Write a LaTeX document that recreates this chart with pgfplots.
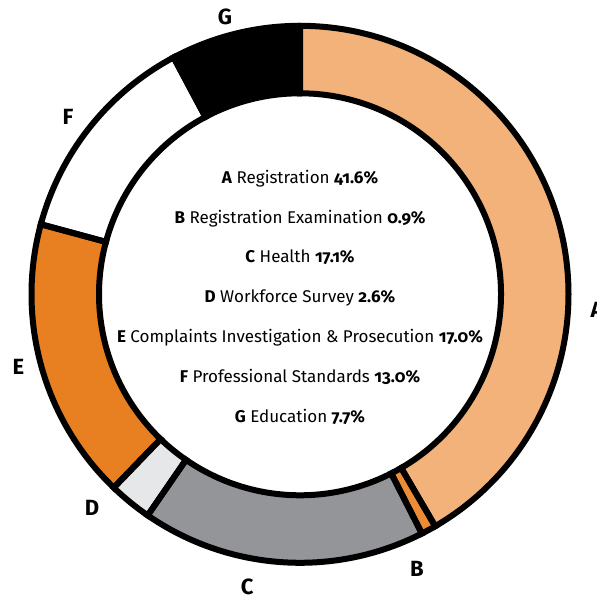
\documentclass[border=0pt]{standalone}
\usepackage{pgfplots}
\pgfplotsset{compat=1.18}
\usepackage{pgfplotstable}
\usepackage{fontspec}
\setmainfont{Fira Sans}[Numbers=OldStyle]
\definecolor{cA}{RGB}{242,178,122}
\definecolor{cB}{RGB}{236,140,52}
\definecolor{cC}{RGB}{147,149,152}
\definecolor{cD}{RGB}{230,231,232}
\definecolor{cE}{RGB}{232,127,32}
\definecolor{cF}{RGB}{255,255,255}
\definecolor{cG}{RGB}{0,0,0}
\pgfplotstableread{
id value col
A 41.6 cA
B 0.9 cB
C 17.1 cC
D 2.6 cD
E 17.0 cE
F 13.0 cF
G 7.7 cG
}\shares
% cumulative angles (clockwise from the top)
\pgfplotstablegetrowsof{\shares}
\pgfmathtruncatemacro{\nrows}{\pgfplotsretval-1}
\gdef\cum{0}
\foreach \i in {0,...,\nrows}{%
  \pgfplotstablegetelem{\i}{value}\of{\shares}%
  \pgfmathsetmacro{\sa}{90-3.6*\cum}%
  \pgfmathsetmacro{\newcum}{\cum+\pgfplotsretval}%
  \pgfmathsetmacro{\ea}{90-3.6*\newcum}%
  \expandafter\xdef\csname sa\i\endcsname{\sa}%
  \expandafter\xdef\csname ea\i\endcsname{\ea}%
  \pgfplotstablegetelem{\i}{col}\of{\shares}%
  \expandafter\xdef\csname col\i\endcsname{\pgfplotsretval}%
  \xdef\cum{\newcum}%
}
\def\cx{300}
\def\cy{304.7}
\def\Ro{268.5bp}
\def\Ri{201bp}
\begin{document}
\begin{tikzpicture}
\begin{axis}[
  x=1bp, y=1bp, scale only axis,
  xmin=0, xmax=597, ymin=0, ymax=599,
  hide axis, clip=false,
]
\pgfplotsinvokeforeach{0,...,6}{
  \fill[\csname col#1\endcsname]
    ([shift={(axis cs:\cx,\cy)}]\csname sa#1\endcsname:\Ro)
    arc[start angle=\csname sa#1\endcsname, end angle=\csname ea#1\endcsname, radius=\Ro]
    -- ([shift={(axis cs:\cx,\cy)}]\csname ea#1\endcsname:\Ri)
    arc[start angle=\csname ea#1\endcsname, end angle=\csname sa#1\endcsname, radius=\Ri]
    -- cycle;
}
\pgfplotsinvokeforeach{0,...,6}{
  \draw[black, line width=6bp, line join=miter]
    ([shift={(axis cs:\cx,\cy)}]\csname sa#1\endcsname:\Ro)
    arc[start angle=\csname sa#1\endcsname, end angle=\csname ea#1\endcsname, radius=\Ro]
    -- ([shift={(axis cs:\cx,\cy)}]\csname ea#1\endcsname:\Ri)
    arc[start angle=\csname ea#1\endcsname, end angle=\csname sa#1\endcsname, radius=\Ri]
    -- cycle;
}
\begin{scope}[font=\fontsize{17bp}{19bp}\selectfont]
\node[anchor=base] at (axis cs:300,415.7) {\textbf{A} Registration \textbf{41.6\%}};
\node[anchor=base] at (axis cs:300,375.9) {\textbf{B} Registration Examination \textbf{0.9\%}};
\node[anchor=base] at (axis cs:300,336.1) {\textbf{C} Health \textbf{17.1\%}};
\node[anchor=base] at (axis cs:300,296.3) {\textbf{D} Workforce Survey \textbf{2.6\%}};
\node[anchor=base] at (axis cs:300,256.5) {\textbf{E} Complaints Investigation \& Prosecution \textbf{17.0\%}};
\node[anchor=base] at (axis cs:300,216.7) {\textbf{F} Professional Standards \textbf{13.0\%}};
\node[anchor=base] at (axis cs:300,176.9) {\textbf{G} Education \textbf{7.7\%}};
\end{scope}
\begin{scope}[font=\fontsize{22bp}{24bp}\selectfont\bfseries]
\node[anchor=base west] at (axis cs:587,282) {A};
\node[anchor=base] at (axis cs:417,22.3) {B};
\node[anchor=base] at (axis cs:247.3,5) {C};
\node[anchor=base] at (axis cs:92,84) {D};
\node[anchor=base] at (axis cs:18.3,225) {E};
\node[anchor=base] at (axis cs:68,474) {F};
\node[anchor=base] at (axis cs:225,574) {G};
\end{scope}
\end{axis}
\pgfresetboundingbox
\path[use as bounding box] (0,0) rectangle (597bp,599bp);
\end{tikzpicture}
\end{document}
